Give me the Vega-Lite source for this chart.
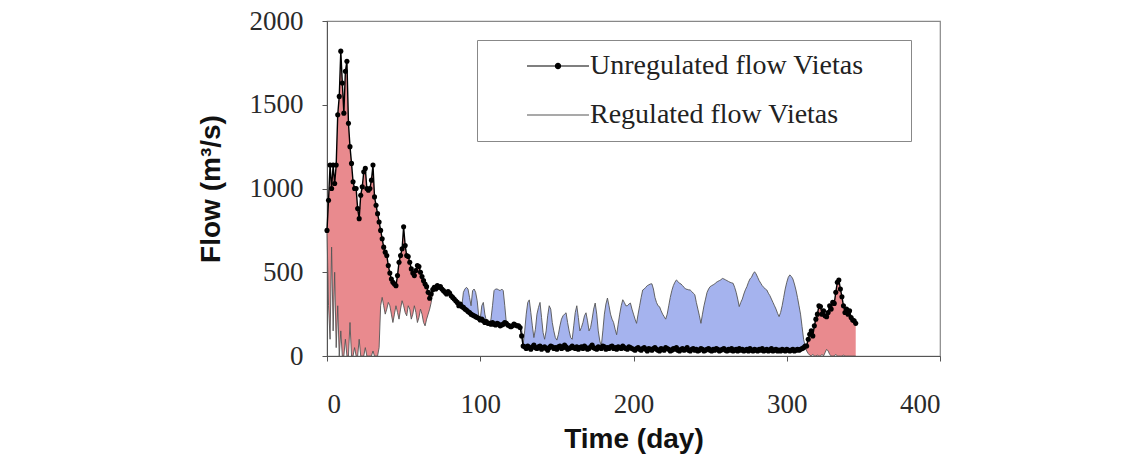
{
  "$schema": "https://vega.github.io/schema/vega-lite/v6.json",
  "width": 613,
  "height": 335,
  "autosize": {"type": "none"},
  "padding": {"left": 327, "top": 21, "right": 205, "bottom": 104},
  "background": "white",
  "config": {
    "view": {"stroke": "#888888", "strokeWidth": 1.2},
    "axis": {
      "grid": false,
      "domainColor": "#555555",
      "tickColor": "#555555",
      "tickSize": 5,
      "labelFont": "Liberation Serif",
      "labelFontSize": 27,
      "labelColor": "#2a2a2a",
      "titleFont": "Liberation Sans",
      "titleFontSize": 28,
      "titleFontWeight": "bold",
      "titleColor": "#111111"
    }
  },
  "data": {"values": [
    {"d":0,"u":750,"r":750},{"d":1,"u":930,"r":300},{"d":2,"u":1140,"r":100},{"d":3,"u":1000,"r":650},{"d":4,"u":1140,"r":150},
    {"d":5,"u":1030,"r":500},{"d":6,"u":1140,"r":50},{"d":7,"u":1440,"r":300},{"d":8,"u":1550,"r":0},{"d":9,"u":1820,"r":150},
    {"d":10,"u":1630,"r":0},{"d":11,"u":1450,"r":0},{"d":12,"u":1700,"r":100},{"d":13,"u":1760,"r":0},{"d":14,"u":1390,"r":0},
    {"d":15,"u":1250,"r":200},{"d":16,"u":1150,"r":0},{"d":17,"u":1040,"r":0},{"d":18,"u":1000,"r":50},{"d":19,"u":1000,"r":0},
    {"d":20,"u":880,"r":0},{"d":21,"u":820,"r":100},{"d":22,"u":960,"r":0},{"d":23,"u":1010,"r":0},{"d":24,"u":1100,"r":0},
    {"d":25,"u":1120,"r":50},{"d":26,"u":1000,"r":0},{"d":27,"u":990,"r":0},{"d":28,"u":1000,"r":0},{"d":29,"u":1050,"r":0},
    {"d":30,"u":1140,"r":30},{"d":31,"u":950,"r":0},{"d":32,"u":900,"r":0},{"d":33,"u":850,"r":0},{"d":34,"u":800,"r":50},
    {"d":35,"u":750,"r":300},{"d":36,"u":700,"r":350},{"d":37,"u":650,"r":300},{"d":38,"u":620,"r":250},{"d":39,"u":600,"r":280},
    {"d":40,"u":540,"r":320},{"d":41,"u":495,"r":300},{"d":42,"u":460,"r":250},{"d":43,"u":440,"r":200},{"d":44,"u":430,"r":250},
    {"d":45,"u":420,"r":300},{"d":46,"u":480,"r":260},{"d":47,"u":560,"r":220},{"d":48,"u":600,"r":280},{"d":49,"u":640,"r":330},
    {"d":50,"u":772,"r":300},{"d":51,"u":660,"r":260},{"d":52,"u":600,"r":240},{"d":53,"u":594,"r":300},{"d":54,"u":560,"r":280},
    {"d":55,"u":520,"r":220},{"d":56,"u":495,"r":250},{"d":57,"u":480,"r":300},{"d":58,"u":510,"r":260},{"d":59,"u":540,"r":200},
    {"d":60,"u":534,"r":230},{"d":61,"u":500,"r":280},{"d":62,"u":474,"r":250},{"d":63,"u":450,"r":200},{"d":64,"u":430,"r":180},
    {"d":65,"u":414,"r":220},{"d":66,"u":380,"r":250},{"d":67,"u":345,"r":280},{"d":68,"u":370,"r":320},{"d":69,"u":396,"r":380},
    {"d":70,"u":410,"r":410},{"d":71,"u":400,"r":400},{"d":72,"u":420,"r":420},{"d":73,"u":410,"r":410},{"d":74,"u":414,"r":414},
    {"d":75,"u":400,"r":400},{"d":76,"u":390,"r":390},{"d":77,"u":380,"r":380},{"d":78,"u":370,"r":370},{"d":79,"u":385,"r":385},
    {"d":80,"u":376,"r":376},{"d":81,"u":360,"r":360},{"d":82,"u":350,"r":350},{"d":83,"u":340,"r":340},{"d":84,"u":330,"r":330},
    {"d":85,"u":320,"r":320},{"d":86,"u":300,"r":300},{"d":87,"u":310,"r":310},{"d":88,"u":295,"r":300},{"d":89,"u":290,"r":380},
    {"d":90,"u":280,"r":400},{"d":91,"u":275,"r":410},{"d":92,"u":265,"r":400},{"d":93,"u":260,"r":350},{"d":94,"u":250,"r":300},
    {"d":95,"u":245,"r":390},{"d":96,"u":240,"r":400},{"d":97,"u":235,"r":380},{"d":98,"u":230,"r":330},{"d":99,"u":225,"r":240},
    {"d":100,"u":215,"r":220},{"d":101,"u":220,"r":300},{"d":102,"u":210,"r":320},{"d":103,"u":200,"r":250},{"d":104,"u":205,"r":210},
    {"d":105,"u":195,"r":200},{"d":106,"u":195,"r":195},{"d":107,"u":190,"r":220},{"d":108,"u":200,"r":300},{"d":109,"u":190,"r":390},
    {"d":110,"u":185,"r":400},{"d":111,"u":195,"r":400},{"d":112,"u":190,"r":395},{"d":113,"u":180,"r":390},{"d":114,"u":185,"r":400},
    {"d":115,"u":190,"r":390},{"d":116,"u":200,"r":300},{"d":117,"u":195,"r":200},{"d":118,"u":185,"r":190},{"d":119,"u":180,"r":185},
    {"d":120,"u":175,"r":180},{"d":121,"u":180,"r":185},{"d":122,"u":190,"r":195},{"d":123,"u":185,"r":190},{"d":124,"u":180,"r":185},
    {"d":125,"u":180,"r":185},{"d":126,"u":170,"r":180},{"d":127,"u":120,"r":160},{"d":128,"u":60,"r":70},{"d":129,"u":55,"r":150},
    {"d":130,"u":45,"r":250},{"d":131,"u":60,"r":320},{"d":132,"u":50,"r":335},{"d":133,"u":40,"r":260},{"d":134,"u":55,"r":180},
    {"d":135,"u":65,"r":110},{"d":136,"u":50,"r":160},{"d":137,"u":45,"r":250},{"d":138,"u":55,"r":290},{"d":139,"u":60,"r":320},
    {"d":140,"u":40,"r":230},{"d":141,"u":50,"r":140},{"d":142,"u":55,"r":100},{"d":143,"u":45,"r":150},{"d":144,"u":35,"r":240},
    {"d":145,"u":50,"r":300},{"d":146,"u":60,"r":280},{"d":147,"u":55,"r":200},{"d":148,"u":45,"r":150},{"d":149,"u":50,"r":110},
    {"d":150,"u":40,"r":95},{"d":151,"u":55,"r":130},{"d":152,"u":60,"r":180},{"d":153,"u":45,"r":220},{"d":154,"u":50,"r":240},
    {"d":155,"u":65,"r":250},{"d":156,"u":55,"r":258},{"d":157,"u":40,"r":200},{"d":158,"u":45,"r":150},{"d":159,"u":50,"r":110},
    {"d":160,"u":60,"r":100},{"d":161,"u":50,"r":180},{"d":162,"u":45,"r":260},{"d":163,"u":55,"r":300},{"d":164,"u":40,"r":230},
    {"d":165,"u":50,"r":150},{"d":166,"u":55,"r":170},{"d":167,"u":45,"r":200},{"d":168,"u":60,"r":240},{"d":169,"u":50,"r":258},
    {"d":170,"u":40,"r":210},{"d":171,"u":45,"r":150},{"d":172,"u":55,"r":170},{"d":173,"u":65,"r":220},{"d":174,"u":50,"r":280},
    {"d":175,"u":45,"r":316},{"d":176,"u":40,"r":250},{"d":177,"u":55,"r":150},{"d":178,"u":50,"r":90},{"d":179,"u":45,"r":60},
    {"d":180,"u":60,"r":150},{"d":181,"u":55,"r":250},{"d":182,"u":40,"r":310},{"d":183,"u":50,"r":346},{"d":184,"u":45,"r":300},
    {"d":185,"u":55,"r":250},{"d":186,"u":60,"r":220},{"d":187,"u":45,"r":200},{"d":188,"u":50,"r":160},{"d":189,"u":40,"r":127},
    {"d":190,"u":55,"r":190},{"d":191,"u":50,"r":250},{"d":192,"u":45,"r":300},{"d":193,"u":60,"r":336},{"d":194,"u":50,"r":320},
    {"d":195,"u":45,"r":300},{"d":196,"u":40,"r":300},{"d":197,"u":55,"r":310},{"d":198,"u":50,"r":316},{"d":199,"u":45,"r":280},
    {"d":200,"u":40,"r":250},{"d":201,"u":35,"r":220},{"d":202,"u":45,"r":195},{"d":203,"u":50,"r":250},{"d":204,"u":40,"r":300},
    {"d":205,"u":35,"r":350},{"d":206,"u":45,"r":394},{"d":207,"u":50,"r":400},{"d":208,"u":40,"r":410},{"d":209,"u":30,"r":420},
    {"d":210,"u":45,"r":425},{"d":211,"u":40,"r":430},{"d":212,"u":35,"r":431},{"d":213,"u":45,"r":400},{"d":214,"u":50,"r":350},
    {"d":215,"u":40,"r":320},{"d":216,"u":35,"r":300},{"d":217,"u":30,"r":294},{"d":218,"u":45,"r":270},{"d":219,"u":40,"r":250},
    {"d":220,"u":35,"r":235},{"d":221,"u":50,"r":220},{"d":222,"u":45,"r":250},{"d":223,"u":40,"r":300},{"d":224,"u":30,"r":350},
    {"d":225,"u":35,"r":390},{"d":226,"u":45,"r":420},{"d":227,"u":40,"r":440},{"d":228,"u":50,"r":454},{"d":229,"u":35,"r":445},
    {"d":230,"u":30,"r":434},{"d":231,"u":40,"r":430},{"d":232,"u":45,"r":420},{"d":233,"u":35,"r":410},{"d":234,"u":40,"r":400},
    {"d":235,"u":50,"r":398},{"d":236,"u":35,"r":395},{"d":237,"u":30,"r":394},{"d":238,"u":40,"r":385},{"d":239,"u":45,"r":375},
    {"d":240,"u":35,"r":366},{"d":241,"u":40,"r":320},{"d":242,"u":30,"r":280},{"d":243,"u":35,"r":240},{"d":244,"u":45,"r":195},
    {"d":245,"u":40,"r":250},{"d":246,"u":30,"r":300},{"d":247,"u":35,"r":340},{"d":248,"u":40,"r":380},{"d":249,"u":45,"r":400},
    {"d":250,"u":35,"r":414},{"d":251,"u":30,"r":420},{"d":252,"u":40,"r":425},{"d":253,"u":35,"r":430},{"d":254,"u":45,"r":440},
    {"d":255,"u":40,"r":445},{"d":256,"u":30,"r":450},{"d":257,"u":35,"r":455},{"d":258,"u":40,"r":463},{"d":259,"u":45,"r":460},
    {"d":260,"u":35,"r":455},{"d":261,"u":30,"r":450},{"d":262,"u":40,"r":445},{"d":263,"u":35,"r":440},{"d":264,"u":45,"r":437},
    {"d":265,"u":30,"r":434},{"d":266,"u":35,"r":410},{"d":267,"u":40,"r":380},{"d":268,"u":30,"r":340},{"d":269,"u":45,"r":295},
    {"d":270,"u":35,"r":320},{"d":271,"u":40,"r":340},{"d":272,"u":30,"r":370},{"d":273,"u":35,"r":395},{"d":274,"u":40,"r":414},
    {"d":275,"u":30,"r":440},{"d":276,"u":45,"r":460},{"d":277,"u":35,"r":470},{"d":278,"u":30,"r":490},{"d":279,"u":40,"r":503},
    {"d":280,"u":35,"r":490},{"d":281,"u":30,"r":470},{"d":282,"u":40,"r":450},{"d":283,"u":35,"r":435},{"d":284,"u":45,"r":420},
    {"d":285,"u":30,"r":410},{"d":286,"u":35,"r":400},{"d":287,"u":40,"r":394},{"d":288,"u":30,"r":375},{"d":289,"u":35,"r":360},
    {"d":290,"u":45,"r":340},{"d":291,"u":30,"r":320},{"d":292,"u":35,"r":300},{"d":293,"u":40,"r":280},{"d":294,"u":30,"r":255},
    {"d":295,"u":35,"r":235},{"d":296,"u":30,"r":260},{"d":297,"u":40,"r":300},{"d":298,"u":35,"r":350},{"d":299,"u":30,"r":400},
    {"d":300,"u":40,"r":440},{"d":301,"u":35,"r":470},{"d":302,"u":30,"r":484},{"d":303,"u":35,"r":475},{"d":304,"u":40,"r":460},
    {"d":305,"u":30,"r":430},{"d":306,"u":35,"r":394},{"d":307,"u":40,"r":350},{"d":308,"u":35,"r":300},{"d":309,"u":40,"r":250},
    {"d":310,"u":45,"r":175},{"d":311,"u":50,"r":100},{"d":312,"u":60,"r":60},{"d":313,"u":60,"r":30},{"d":314,"u":100,"r":15},
    {"d":315,"u":130,"r":5},{"d":316,"u":150,"r":0},{"d":317,"u":120,"r":10},{"d":318,"u":180,"r":0},{"d":319,"u":220,"r":0},
    {"d":320,"u":250,"r":5},{"d":321,"u":300,"r":0},{"d":322,"u":295,"r":0},{"d":323,"u":250,"r":10},{"d":324,"u":270,"r":0},
    {"d":325,"u":240,"r":20},{"d":326,"u":235,"r":40},{"d":327,"u":260,"r":30},{"d":328,"u":300,"r":10},{"d":329,"u":280,"r":0},
    {"d":330,"u":320,"r":0},{"d":331,"u":314,"r":0},{"d":332,"u":380,"r":10},{"d":333,"u":440,"r":0},{"d":334,"u":454,"r":0},
    {"d":335,"u":400,"r":0},{"d":336,"u":354,"r":0},{"d":337,"u":300,"r":5},{"d":338,"u":260,"r":0},{"d":339,"u":280,"r":0},
    {"d":340,"u":250,"r":0},{"d":341,"u":270,"r":0},{"d":342,"u":230,"r":0},{"d":343,"u":215,"r":0},{"d":344,"u":210,"r":0},
    {"d":345,"u":195,"r":0}
  ]},
  "encoding": {
    "x": {"field": "d", "type": "quantitative", "scale": {"domain": [0, 400], "nice": false},
      "axis": {"title": "Time (day)", "values": [0, 100, 200, 300, 400], "labelPadding": 30, "titlePadding": 8}}
  },
  "layer": [
    {
      "transform": [{"filter": "datum.d <= 76"}],
      "mark": {"type": "area", "color": "#e98a8e", "opacity": 1},
      "encoding": {
        "y": {"field": "u", "type": "quantitative", "scale": {"domain": [0, 2000], "nice": false},
          "axis": {"title": "Flow (m³/s)", "values": [0, 500, 1000, 1500, 2000], "format": "d", "labelPadding": 19, "titlePadding": 24}},
        "y2": {"field": "r"}
      }
    },
    {
      "transform": [{"filter": "datum.d >= 76 && datum.d <= 312"}],
      "mark": {"type": "area", "color": "#a5b3ee", "opacity": 1},
      "encoding": {"y": {"field": "u", "type": "quantitative"}, "y2": {"field": "r"}}
    },
    {
      "transform": [{"filter": "datum.d >= 312"}],
      "mark": {"type": "area", "color": "#e98a8e", "opacity": 1},
      "encoding": {"y": {"field": "u", "type": "quantitative"}, "y2": {"field": "r"}}
    },
    {
      "mark": {"type": "line", "strokeWidth": 0.9},
      "encoding": {
        "y": {"field": "r", "type": "quantitative"},
        "stroke": {"datum": "Regulated flow Vietas"}
      }
    },
    {
      "mark": {"type": "line", "strokeWidth": 1.4},
      "encoding": {
        "y": {"field": "u", "type": "quantitative"},
        "stroke": {"datum": "Unregulated flow Vietas", "type": "nominal",
          "scale": {"domain": ["Unregulated flow Vietas", "Regulated flow Vietas"], "range": ["#000000", "#555555"]},
          "legend": {
            "title": null,
            "orient": "none",
            "legendX": 150,
            "legendY": 19,
            "padding": 12,
            "strokeColor": "#888888",
            "fillColor": "white",
            "symbolSize": 427,
            "symbolStrokeWidth": 1.2,
            "symbolOffset": 55,
            "labelOffset": 18,
            "labelFont": "Liberation Serif",
            "labelFontSize": 28,
            "labelColor": "#222222",
            "labelLimit": 0,
            "rowPadding": 21,
            "labelExpr": "datum.label + '\u00a0\u00a0\u2800'",
            "encode": {
              "symbols": {
                "update": {
                  "shape": [
                    {"test": "datum.value === 'Unregulated flow Vietas'", "value": "M-3,0H3M-0.25,0A0.25,0.25,0,1,1,0.25,0A0.25,0.25,0,1,1,-0.25,0Z"},
                    {"value": "M-3,0H3"}
                  ],
                  "fill": {"value": "black"}
                }
              }
            }
          }
        }
      }
    },
    {
      "mark": {"type": "circle", "size": 26, "color": "black", "opacity": 1},
      "encoding": {"y": {"field": "u", "type": "quantitative"}}
    }
  ]
}
